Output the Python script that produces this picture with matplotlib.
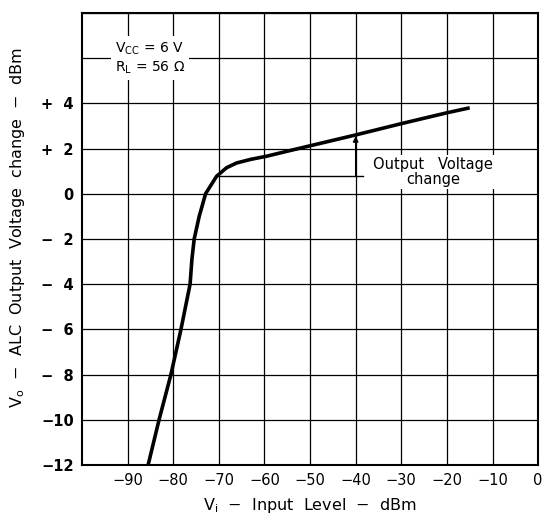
import matplotlib.pyplot as plt
import numpy as np

# curve (input dBm, output change dBm)
vin = [-85.5, -83.1, -80.5, -78.3, -76.3, -75.9, -75.4, -74.3, -72.9, -70.5,
       -68.3, -66.1, -63.0, -59.7, -55.0, -50.0, -40.0, -30.0, -20.0, -15.0]
vout = [-12.0, -10.0, -8.0, -6.0, -4.0, -2.9, -2.0, -1.0, 0.0, 0.77,
        1.15, 1.36, 1.52, 1.65, 1.88, 2.12, 2.6, 3.1, 3.58, 3.8]

x_ticks = [-90, -80, -70, -60, -50, -40, -30, -20, -10, 0]
x_labels = ['\u221290', '\u221280', '\u221270', '\u221260', '\u221250',
            '\u221240', '\u221230', '\u221220', '\u221210', '0']
y_ticks = [-12, -10, -8, -6, -4, -2, 0, 2, 4, 6, 8]
y_labels = ['\u221212', '\u221210', '\u2212  8', '\u2212  6', '\u2212  4',
            '\u2212  2', '0', '+  2', '+  4', '', '']

ref_level = 0.77   # output level the change is measured from
arrow_x = -40

plt.rcParams['font.family'] = ['DejaVu Sans']

fig = plt.figure(figsize=(5.43, 5.16), dpi=100)
ax = fig.add_axes([0.151, 0.099, 0.840, 0.876])

ax.set_xlim(-100, 0)
ax.set_ylim(-12, 8)
ax.set_xticks(x_ticks)
ax.set_xticklabels(x_labels)
ax.set_yticks(y_ticks)
ax.set_yticklabels(y_labels)
ax.tick_params(length=0, labelsize=10.5, pad=6)
for lab in ax.get_yticklabels():
    lab.set_fontweight('bold')
ax.grid(True, color='black', linewidth=0.9)
for s in ax.spines.values():
    s.set_linewidth(1.5)

ax.plot(vin, vout, color='black', linewidth=2.6, solid_capstyle='butt', zorder=4)

# reference line + arrow showing output voltage change
ax.plot([-70.5, -38.5], [ref_level, ref_level], color='black', linewidth=1.0, zorder=3)
ax.annotate('', xy=(arrow_x, 2.55), xytext=(arrow_x, ref_level),
            arrowprops=dict(arrowstyle='-|>', color='black', lw=1.0,
                            mutation_scale=8, shrinkA=0, shrinkB=0), zorder=3)
ax.text(-23, 0.97, 'Output   Voltage\nchange', ha='center', va='center',
        fontsize=10.5, multialignment='center', linespacing=1.0,
        bbox=dict(facecolor='white', edgecolor='none', pad=1.5), zorder=3)

ax.text(-92.8, 6.0, 'V$_{\\mathregular{CC}}$ = 6 V\nR$_{\\mathregular{L}}$ = 56 \u03a9',
        ha='left', va='center', fontsize=10, linespacing=1.25,
        bbox=dict(facecolor='white', edgecolor='none', pad=3), zorder=3)

ax.set_xlabel('V$_{\\mathregular{i}}$  \u2212  Input  Level  \u2212  dBm', fontsize=11.5)
ax.xaxis.set_label_coords(0.5, -0.068)
ax.set_ylabel('V$_{\\mathregular{o}}$  \u2212  ALC  Output  Voltage  change  \u2212  dBm',
              fontsize=11.5)
ax.yaxis.set_label_coords(-0.12, 0.524)

fig.savefig('out.png', dpi=100)
